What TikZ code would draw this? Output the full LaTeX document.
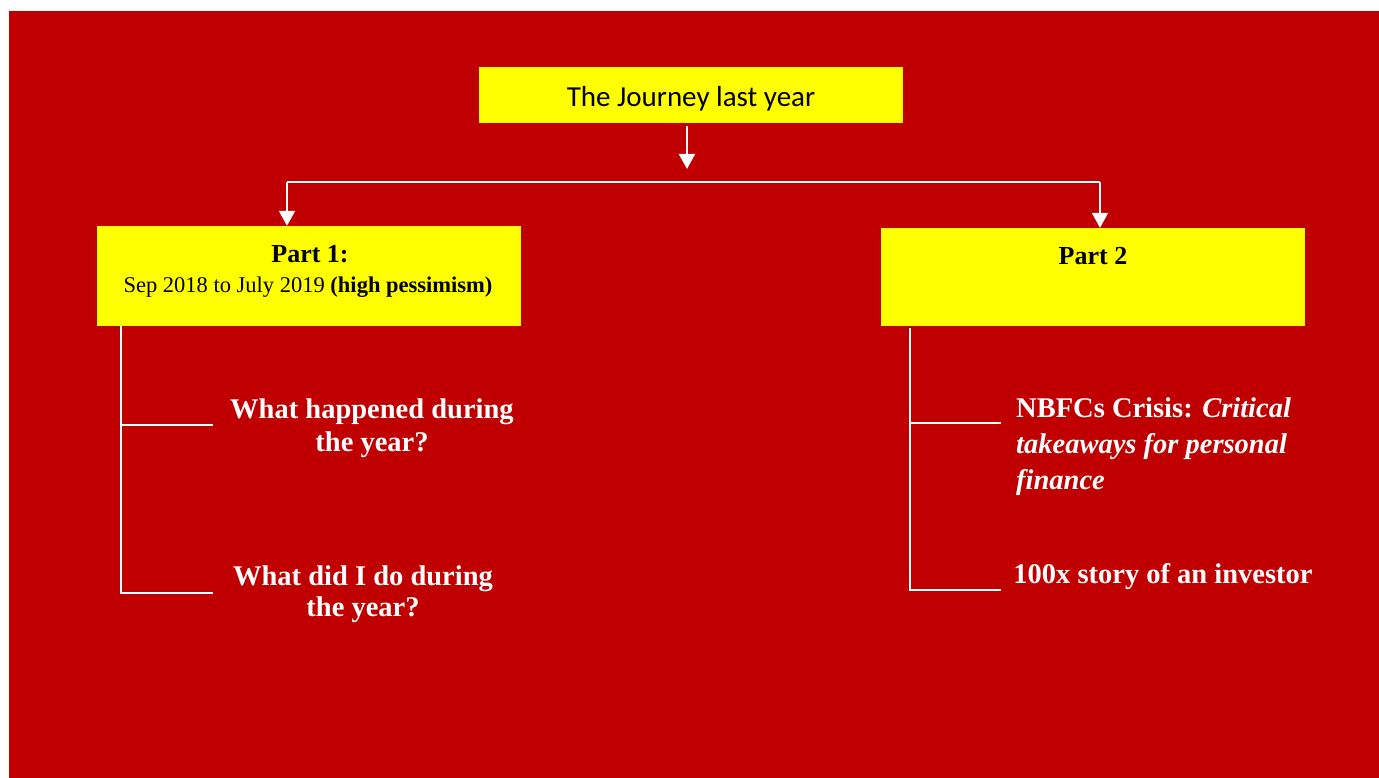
\documentclass[tikz,border=0pt]{standalone}
\usepackage{fontspec}
\setmainfont{Liberation Serif}
\newfontfamily\calib{Carlito}
\usetikzlibrary{arrows.meta}
\definecolor{bgred}{RGB}{192,0,0}
\definecolor{boxyellow}{RGB}{255,255,0}
\tikzset{
  ybox/.style={fill=boxyellow, draw=none, inner sep=0pt},
  conn/.style={draw=white, line width=2pt},
  arr/.style={conn, -{Triangle[length=15pt,width=16pt]}},
  wtext/.style={text=white, font=\fontsize{28.5}{34}\selectfont\bfseries, inner sep=0pt},
}
\begin{document}
\begin{tikzpicture}[x=1pt,y=-1pt]
\useasboundingbox (0,0) rectangle (1379,778);
\fill[white] (0,0) rectangle (1379,778);
\fill[bgred] (9,11) rectangle (1379,778);

% boxes
\node[ybox, minimum width=424pt, minimum height=56pt] (top) at (691,95) {};
\node[font=\calib\fontsize{29}{34}\selectfont, inner sep=0pt] (toptxt) at (691,99) {The Journey last year};

\node[ybox, minimum width=424pt, minimum height=100pt] (p1) at (309,276) {};
\node[font=\fontsize{26}{30}\selectfont\bfseries, inner sep=0pt] (p1a) at (310,254) {Part 1:};
\node[font=\fontsize{22.5}{28}\selectfont, inner sep=0pt] (p1b) at (308,287) {Sep 2018 to July 2019 \textbf{(high pessimism)}};

\node[ybox, minimum width=424pt, minimum height=98pt] (p2) at (1093,277) {};
\node[font=\fontsize{26}{30}\selectfont\bfseries, inner sep=0pt] (p2a) at (1093,256) {Part 2};

% top arrow
\coordinate (ta) at (687,126);
\draw[arr] (ta) -- ++(0,43);

% bracket
\coordinate (hl) at (287,182);
\coordinate (hr) at (1100,182);
\draw[conn] (hl) -- (hr);
\draw[arr] (hl) -- (hl |- p1.north);
\draw[arr] (hr) -- (hr |- p2.north);

% left tree
\coordinate (l0) at (121,326);
\coordinate (l1) at (121,425);
\coordinate (l2) at (121,593);
\coordinate (l1e) at (213,425);
\coordinate (l2e) at (213,593);
\draw[conn] (l0) -- (l2) -- (l2e);
\draw[conn] (l1) -- (l1e);

\node[wtext, align=center] (q1) at (372,428) {What happened during\\[-0.5pt]the year?};
\node[wtext, align=center] (q2) at (363,594) {What did I do during\\[-3pt]the year?};

% right tree
\coordinate (r0) at (910,328);
\coordinate (r1) at (910,423);
\coordinate (r2) at (910,590);
\coordinate (r1e) at (1001,423);
\coordinate (r2e) at (1001,590);
\draw[conn] (r0) -- (r2) -- (r2e);
\draw[conn] (r1) -- (r1e);

\node[wtext, align=left, anchor=west] (n1) at (1016,447) {NBFCs Crisis: \textit{Critical}\\[2pt]\textit{takeaways for personal}\\[2pt]\textit{finance}};
\node[wtext] (n2) at (1163,577) {100x story of an investor};
\end{tikzpicture}
\end{document}
